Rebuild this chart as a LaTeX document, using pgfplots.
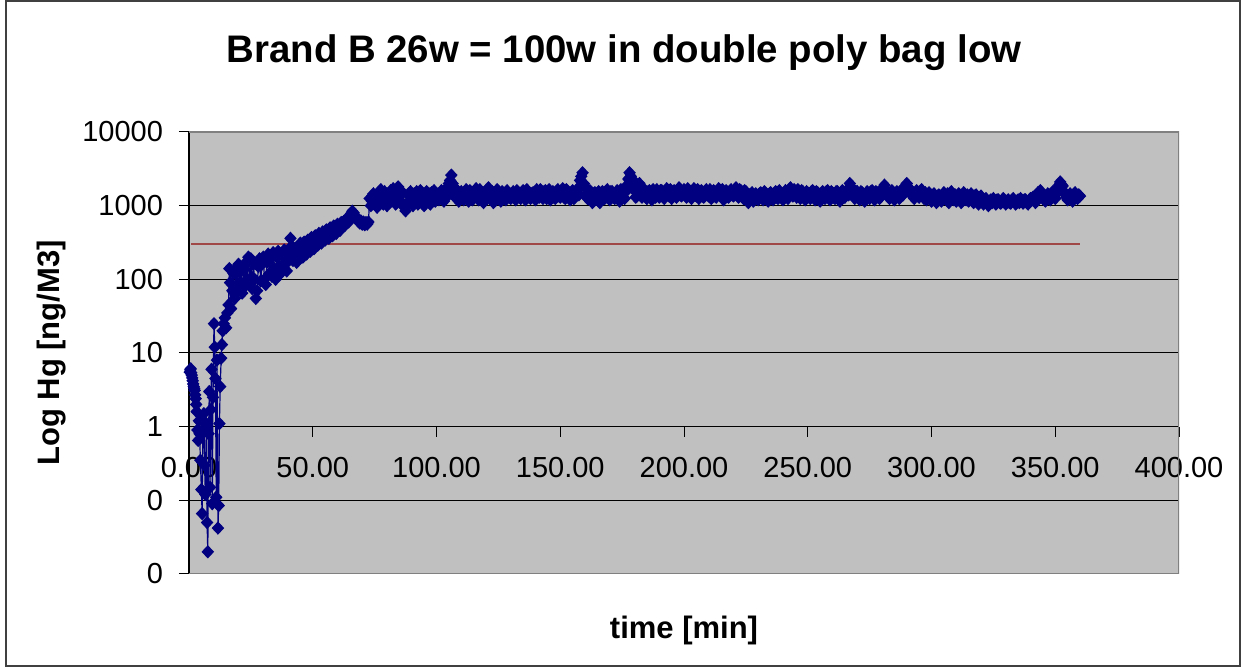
\documentclass[border=0pt]{standalone}
\usepackage{fontspec}
\setmainfont{Liberation Sans}
\usepackage{pgfplots}
\usepackage{pgfplotstable}
\pgfplotsset{compat=1.18}
\definecolor{plotbg}{HTML}{C0C0C0}
\definecolor{navyc}{HTML}{000080}
\definecolor{redl}{HTML}{A04848}
\definecolor{frameg}{HTML}{808080}

\pgfplotstableread[row sep=\\]{
t v \\
0.3 5.5 \\ 0.5 5.9 \\ 0.7 6.1 \\ 0.9 5.4 \\ 1.1 5.0 \\ 1.3 4.6 \\ 1.5 4.2 \\ 1.7 3.8 \\ 1.9 3.5 \\ 2.1 3.3 \\
2.3 3.1 \\ 2.5 2.7 \\ 2.7 2.4 \\ 2.9 2.0 \\ 3.1 1.6 \\ 3.4 0.9 \\ 3.7 0.65 \\ 4.0 1.2 \\ 4.3 0.8 \\ 4.6 0.35 \\
5.0 0.14 \\ 5.3 0.066 \\ 5.6 0.9 \\ 6.0 1.5 \\ 6.3 0.3 \\ 6.6 0.12 \\ 7.0 1.1 \\ 7.3 0.05 \\ 7.6 0.02 \\ 7.9 0.8 \\
8.2 3.0 \\ 8.5 0.15 \\ 8.8 1.7 \\ 9.1 6.0 \\ 9.4 0.09 \\ 9.7 2.5 \\ 10.1 25 \\ 10.4 12 \\ 10.7 4.5 \\ 11.0 0.11 \\
11.3 8.0 \\ 11.7 0.042 \\ 12.0 0.085 \\ 12.3 1.1 \\ 12.6 3.5 \\ 13.0 8.5 \\ 13.3 13 \\ 13.6 20 \\ 14.0 25 \\ 14.5 30 \\
15.0 22 \\ 15.5 35 \\ 16.0 45 \\ 16.3 140 \\ 16.6 90 \\ 17.0 40 \\ 17.5 70 \\ 18.0 120 \\ 18.5 55 \\ 19.0 140 \\
19.5 70 \\ 20.0 160 \\ 20.5 90 \\ 21.0 130 \\ 21.5 65 \\ 22.0 150 \\ 22.5 80 \\ 23.0 170 \\ 23.5 100 \\ 24.0 200 \\
24.5 90 \\ 25.0 190 \\ 25.5 75 \\ 26.0 160 \\ 26.5 100 \\ 27.0 55 \\ 27.5 70 \\ 28.0 150 \\ 28.5 190 \\ 29.0 95 \\
29.5 160 \\ 30.0 200 \\ 30.5 100 \\ 31.0 85 \\ 31.5 170 \\ 32.0 220 \\ 32.5 120 \\ 33.0 190 \\ 33.5 110 \\ 34.0 230 \\
34.5 140 \\ 35.0 100 \\ 35.5 200 \\ 36.0 240 \\ 36.5 150 \\ 37.0 120 \\ 37.5 210 \\ 38.0 140 \\ 38.5 250 \\ 39.0 160 \\
39.5 130 \\ 40.0 220 \\ 40.5 260 \\ 41.0 360 \\ 41.5 280 \\ 42.0 180 \\ 42.5 260 \\ 43.0 200 \\ 43.5 170 \\ 44.0 280 \\
44.5 210 \\ 45.0 310 \\ 45.5 230 \\ 46.0 200 \\ 46.5 320 \\ 47.0 250 \\ 47.5 220 \\ 48.0 340 \\ 48.5 270 \\ 49.0 240 \\
49.5 370 \\ 50.0 290 \\ 50.5 260 \\ 51.0 390 \\ 51.5 320 \\ 52.0 290 \\ 52.5 420 \\ 53.0 340 \\ 53.5 310 \\ 54.0 440 \\
54.5 370 \\ 55.0 340 \\ 55.5 470 \\ 56.0 390 \\ 56.5 360 \\ 57.0 500 \\ 57.5 420 \\ 58.0 390 \\ 58.5 530 \\ 59.0 450 \\
59.5 420 \\ 60.0 560 \\ 60.5 480 \\ 61.0 460 \\ 61.5 590 \\ 62.0 520 \\ 62.5 610 \\ 63.0 540 \\ 63.5 650 \\ 64.0 680 \\
64.5 600 \\ 65.0 720 \\ 65.5 780 \\ 66.0 840 \\ 66.5 800 \\ 67.0 740 \\ 67.5 690 \\ 68.0 640 \\ 68.5 610 \\ 69.0 580 \\
69.5 620 \\ 70.0 560 \\ 70.5 600 \\ 71.0 550 \\ 71.5 590 \\ 72.0 560 \\ 72.5 600 \\ 73.0 1250 \\ 73.5 1000 \\ 74.0 1150 \\
74.5 1450 \\ 75.0 1050 \\ 75.5 1350 \\ 76.0 950 \\ 76.5 1500 \\ 77.0 1150 \\ 77.5 1650 \\ 78.0 1250 \\ 78.5 1050 \\ 79.0 1550 \\
79.5 1200 \\ 80.0 1000 \\ 80.5 1450 \\ 81.0 1100 \\ 81.5 1600 \\ 82.0 1200 \\ 82.5 1700 \\ 83.0 1300 \\ 83.5 1050 \\ 84.0 1600 \\
84.5 1800 \\ 85.0 1350 \\ 85.5 1150 \\ 86.0 1550 \\ 86.5 1050 \\ 87.0 950 \\ 87.5 850 \\ 88.0 1050 \\ 88.5 1400 \\ 89.0 1100 \\
89.5 1550 \\ 90.0 1200 \\ 90.5 1000 \\ 91.0 1450 \\ 91.5 1150 \\ 92.0 1550 \\ 92.5 1050 \\ 93.0 1400 \\ 93.5 1600 \\ 94.0 1100 \\
94.5 1450 \\ 95.0 1000 \\ 95.5 1400 \\ 96.0 1550 \\ 96.5 1150 \\ 97.0 1450 \\ 97.5 1050 \\ 98.0 1500 \\ 98.5 1200 \\ 99.0 1600 \\
99.5 1150 \\ 100 1450 \\ 100.5 1300 \\ 101 1200 \\ 101.5 1450 \\ 102 1600 \\ 102.5 1250 \\ 103 1150 \\ 103.5 1650 \\ 104 1500 \\
104.5 1350 \\ 105 2000 \\ 105.5 2200 \\ 106 2600 \\ 106.5 2000 \\ 107 1750 \\ 107.5 1400 \\ 108 1250 \\ 108.5 1600 \\ 109 1150 \\
109.5 1350 \\ 110 1550 \\ 110.5 1250 \\ 111 1200 \\ 111.5 1500 \\ 112 1650 \\ 112.5 1300 \\ 113 1150 \\ 113.5 1600 \\ 114 1500 \\
114.5 1200 \\ 115 1250 \\ 115.5 1450 \\ 116 1700 \\ 116.5 1300 \\ 117 1200 \\ 117.5 1650 \\ 118 1550 \\ 118.5 1250 \\ 119 1100 \\
119.5 1450 \\ 120 1600 \\ 120.5 1300 \\ 121 1750 \\ 121.5 1450 \\ 122 1250 \\ 122.5 1550 \\ 123 1100 \\ 123.5 1400 \\ 124 1200 \\
124.5 1650 \\ 125 1550 \\ 125.5 1250 \\ 126 1150 \\ 126.5 1550 \\ 127 1450 \\ 127.5 1250 \\ 128 1200 \\ 128.5 1600 \\ 129 1500 \\
129.5 1300 \\ 130 1250 \\ 130.5 1450 \\ 131 1550 \\ 131.5 1300 \\ 132 1200 \\ 132.5 1600 \\ 133 1500 \\ 133.5 1300 \\ 134 1250 \\
134.5 1450 \\ 135 1600 \\ 135.5 1250 \\ 136 1200 \\ 136.5 1650 \\ 137 1550 \\ 137.5 1300 \\ 138 1250 \\ 138.5 1450 \\ 139 1500 \\
139.5 1300 \\ 140 1200 \\ 140.5 1650 \\ 141 1550 \\ 141.5 1300 \\ 142 1650 \\ 142.5 1400 \\ 143 1250 \\ 143.5 1550 \\ 144 1600 \\
144.5 1250 \\ 145 1300 \\ 145.5 1650 \\ 146 1200 \\ 146.5 1450 \\ 147 1550 \\ 147.5 1300 \\ 148 1250 \\ 148.5 1550 \\ 149 1650 \\
149.5 1350 \\ 150 1300 \\ 150.5 1550 \\ 151 1700 \\ 151.5 1300 \\ 152 1250 \\ 152.5 1650 \\ 153 1550 \\ 153.5 1300 \\ 154 1200 \\
154.5 1450 \\ 155 1600 \\ 155.5 1250 \\ 156 1300 \\ 156.5 1550 \\ 157 1700 \\ 157.5 1400 \\ 158 2200 \\ 158.5 2500 \\ 159 2800 \\
159.5 2000 \\ 160 1750 \\ 160.5 1400 \\ 161 1250 \\ 161.5 1550 \\ 162 1600 \\ 162.5 1250 \\ 163 1100 \\ 163.5 1450 \\ 164 1500 \\
164.5 1300 \\ 165 1200 \\ 165.5 1550 \\ 166 1100 \\ 166.5 1350 \\ 167 1550 \\ 167.5 1250 \\ 168 1250 \\ 168.5 1500 \\ 169 1650 \\
169.5 1300 \\ 170 1200 \\ 170.5 1550 \\ 171 1550 \\ 171.5 1300 \\ 172 1250 \\ 172.5 1500 \\ 173 1600 \\ 173.5 1300 \\ 174 1150 \\
174.5 1650 \\ 175 1500 \\ 175.5 1300 \\ 176 1250 \\ 176.5 1550 \\ 177 1900 \\ 177.5 2300 \\ 178 2800 \\ 178.5 2500 \\ 179 2300 \\
179.5 1900 \\ 180 1600 \\ 180.5 1300 \\ 181 1350 \\ 181.5 1650 \\ 182 2000 \\ 182.5 1500 \\ 183 1300 \\ 183.5 1600 \\ 184 1650 \\
184.5 1300 \\ 185 1250 \\ 185.5 1550 \\ 186 1600 \\ 186.5 1350 \\ 187 1200 \\ 187.5 1650 \\ 188 1550 \\ 188.5 1300 \\ 189 1650 \\
189.5 1450 \\ 190 1300 \\ 190.5 1600 \\ 191 1600 \\ 191.5 1350 \\ 192 1250 \\ 192.5 1550 \\ 193 1700 \\ 193.5 1400 \\ 194 1350 \\
194.5 1650 \\ 195 1250 \\ 195.5 1500 \\ 196 1600 \\ 196.5 1350 \\ 197 1300 \\ 197.5 1600 \\ 198 1750 \\ 198.5 1400 \\ 199 1350 \\
199.5 1550 \\ 200 1650 \\ 200.5 1400 \\ 201 1300 \\ 201.5 1700 \\ 202 1600 \\ 202.5 1350 \\ 203 1250 \\ 203.5 1550 \\ 204 1700 \\
204.5 1400 \\ 205 1350 \\ 205.5 1650 \\ 206 1250 \\ 206.5 1450 \\ 207 1600 \\ 207.5 1350 \\ 208 1300 \\ 208.5 1550 \\ 209 1650 \\
209.5 1400 \\ 210 1350 \\ 210.5 1650 \\ 211 1250 \\ 211.5 1450 \\ 212 1600 \\ 212.5 1350 \\ 213 1300 \\ 213.5 1550 \\ 214 1700 \\
214.5 1450 \\ 215 1350 \\ 215.5 1650 \\ 216 1200 \\ 216.5 1450 \\ 217 1600 \\ 217.5 1350 \\ 218 1300 \\ 218.5 1550 \\ 219 1650 \\
219.5 1400 \\ 220 1350 \\ 220.5 1600 \\ 221 1750 \\ 221.5 1450 \\ 222 1300 \\ 222.5 1650 \\ 223 1600 \\ 223.5 1400 \\ 224 1250 \\
224.5 1600 \\ 225 1550 \\ 225.5 1300 \\ 226 1100 \\ 226.5 1400 \\ 227 1250 \\ 227.5 1500 \\ 228 1150 \\ 228.5 1300 \\ 229 1450 \\
229.5 1250 \\ 230 1200 \\ 230.5 1450 \\ 231 1500 \\ 231.5 1300 \\ 232 1200 \\ 232.5 1550 \\ 233 1450 \\ 233.5 1300 \\ 234 1150 \\
234.5 1450 \\ 235 1500 \\ 235.5 1250 \\ 236 1200 \\ 236.5 1450 \\ 237 1550 \\ 237.5 1300 \\ 238 1250 \\ 238.5 1600 \\ 239 1500 \\
239.5 1300 \\ 240 1200 \\ 240.5 1450 \\ 241 1600 \\ 241.5 1350 \\ 242 1250 \\ 242.5 1550 \\ 243 1750 \\ 243.5 1500 \\ 244 1350 \\
244.5 1650 \\ 245 1500 \\ 245.5 1300 \\ 246 1650 \\ 246.5 1450 \\ 247 1250 \\ 247.5 1600 \\ 248 1550 \\ 248.5 1300 \\ 249 1200 \\
249.5 1550 \\ 250 1500 \\ 250.5 1350 \\ 251 1250 \\ 251.5 1550 \\ 252 1600 \\ 252.5 1300 \\ 253 1200 \\ 253.5 1550 \\ 254 1500 \\
254.5 1300 \\ 255 1150 \\ 255.5 1450 \\ 256 1550 \\ 256.5 1300 \\ 257 1250 \\ 257.5 1550 \\ 258 1600 \\ 258.5 1350 \\ 259 1200 \\
259.5 1550 \\ 260 1500 \\ 260.5 1300 \\ 261 1250 \\ 261.5 1550 \\ 262 1550 \\ 262.5 1350 \\ 263 1150 \\ 263.5 1450 \\ 264 1600 \\
264.5 1350 \\ 265 1300 \\ 265.5 1550 \\ 266 1650 \\ 266.5 1400 \\ 267 2000 \\ 267.5 1800 \\ 268 1600 \\ 268.5 1400 \\ 269 1250 \\
269.5 1550 \\ 270 1550 \\ 270.5 1300 \\ 271 1200 \\ 271.5 1550 \\ 272 1500 \\ 272.5 1300 \\ 273 1150 \\ 273.5 1450 \\ 274 1550 \\
274.5 1300 \\ 275 1250 \\ 275.5 1550 \\ 276 1600 \\ 276.5 1300 \\ 277 1200 \\ 277.5 1550 \\ 278 1500 \\ 278.5 1350 \\ 279 1250 \\
279.5 1450 \\ 280 1650 \\ 280.5 1750 \\ 281 1900 \\ 281.5 1650 \\ 282 1550 \\ 282.5 1350 \\ 283 1250 \\ 283.5 1500 \\ 284 1600 \\
284.5 1350 \\ 285 1200 \\ 285.5 1450 \\ 286 1550 \\ 286.5 1350 \\ 287 1250 \\ 287.5 1500 \\ 288 1650 \\ 288.5 1400 \\ 289 1750 \\
289.5 1850 \\ 290 2000 \\ 290.5 1800 \\ 291 1700 \\ 291.5 1450 \\ 292 1500 \\ 292.5 1350 \\ 293 1250 \\ 293.5 1500 \\ 294 1600 \\
294.5 1350 \\ 295 1300 \\ 295.5 1550 \\ 296 1650 \\ 296.5 1400 \\ 297 1250 \\ 297.5 1500 \\ 298 1200 \\ 298.5 1300 \\ 299 1500 \\
299.5 1300 \\ 300 1150 \\ 300.5 1300 \\ 301 1450 \\ 301.5 1250 \\ 302 1100 \\ 302.5 1350 \\ 303 1400 \\ 303.5 1250 \\ 304 1150 \\
304.5 1350 \\ 305 1500 \\ 305.5 1250 \\ 306 1200 \\ 306.5 1450 \\ 307 1100 \\ 307.5 1300 \\ 308 1550 \\ 308.5 1300 \\ 309 1200 \\
309.5 1400 \\ 310 1150 \\ 310.5 1300 \\ 311 1450 \\ 311.5 1250 \\ 312 1100 \\ 312.5 1350 \\ 313 1500 \\ 313.5 1250 \\ 314 1200 \\
314.5 1400 \\ 315 1150 \\ 315.5 1300 \\ 316 1450 \\ 316.5 1250 \\ 317 1100 \\ 317.5 1350 \\ 318 1400 \\ 318.5 1200 \\ 319 1050 \\
319.5 1250 \\ 320 1350 \\ 320.5 1150 \\ 321 1050 \\ 321.5 1150 \\ 322 1250 \\ 322.5 1100 \\ 323 1000 \\ 323.5 1150 \\ 324 1200 \\
324.5 1100 \\ 325 1250 \\ 325.5 1150 \\ 326 1050 \\ 326.5 1200 \\ 327 1200 \\ 327.5 1100 \\ 328 1080 \\ 328.5 1180 \\ 329 1250 \\
329.5 1120 \\ 330 1050 \\ 330.5 1150 \\ 331 1200 \\ 331.5 1100 \\ 332 1080 \\ 332.5 1180 \\ 333 1250 \\ 333.5 1120 \\ 334 1050 \\
334.5 1150 \\ 335 1200 \\ 335.5 1100 \\ 336 1250 \\ 336.5 1150 \\ 337 1080 \\ 337.5 1200 \\ 338 1200 \\ 338.5 1100 \\ 339 1050 \\
339.5 1150 \\ 340 1250 \\ 340.5 1200 \\ 341 1300 \\ 341.5 1200 \\ 342 1100 \\ 342.5 1350 \\ 343 1500 \\ 343.5 1350 \\ 344 1600 \\
344.5 1400 \\ 345 1250 \\ 345.5 1350 \\ 346 1150 \\ 346.5 1300 \\ 347 1450 \\ 347.5 1250 \\ 348 1200 \\ 348.5 1350 \\ 349 1550 \\
349.5 1350 \\ 350 1250 \\ 350.5 1450 \\ 351 1700 \\ 351.5 1900 \\ 352 2100 \\ 352.5 1950 \\ 353 1850 \\ 353.5 1550 \\ 354 1450 \\
354.5 1300 \\ 355 1200 \\ 355.5 1350 \\ 356 1450 \\ 356.5 1250 \\ 357 1150 \\ 357.5 1350 \\ 358 1500 \\ 358.5 1300 \\ 359 1250 \\
359.5 1400 \\ 360 1350 \\
}\hgdata

\begin{document}
\begin{tikzpicture}
\useasboundingbox (0,0) rectangle (620.5pt,333.5pt);
\draw[line width=1pt, black!75] (3pt,0.5pt) rectangle (620pt,333pt);
\begin{axis}[
  at={(94.5pt,46.5pt)}, anchor=south west,
  scale only axis, width=495pt, height=221pt,
  xmin=0, xmax=400, ymode=log, ymin=0.01, ymax=10000,
  axis x line=middle, axis y line=left, axis line style={-, black, line width=0.6pt},
  hide obscured x ticks=false,
  axis background/.style={fill=plotbg},
  xtick={0,50,...,400},
  xticklabels={0.00,50.00,100.00,150.00,200.00,250.00,300.00,350.00,400.00},
  ytick={0.01,0.1,1,10,100,1000,10000},
  yticklabels={0,0,1,10,100,1000,10000},
  yminorticks=false,
  tick align=outside, major tick length=5pt,
  tick style={black, line width=0.5pt},
  ymajorgrids, grid style={black, line width=0.5pt},
  tick label style={font=\fontsize{14.5pt}{17pt}\selectfont},
  xticklabel style={anchor=north, yshift=-7pt},
  yticklabel style={anchor=east, xshift=-4.5pt},
  title={Brand B 26w = 100w in double poly bag low},
  xlabel={time [min]},
  ylabel={Log Hg [ng/M3]},
  every axis title/.style={at={(rel axis cs:0.4394,1.158)}, anchor=base, font=\fontsize{19.2pt}{23pt}\selectfont\bfseries},
  every axis x label/.style={at={(rel axis cs:0.5,-0.147)}, anchor=base, font=\fontsize{15.5pt}{18pt}\selectfont\bfseries},
  every axis y label/.style={at={(rel axis cs:-0.139,0.5)}, rotate=90, anchor=center, font=\fontsize{15.5pt}{18pt}\selectfont\bfseries},
]
\addplot[redl, line width=0.9pt, no marks] coordinates {(1,300) (50,300) (100,300) (150,300) (200,300) (250,300) (300,300) (360,300)};
\addplot[navyc, line width=0.6pt, mark=diamond*, mark size=2.9pt, mark options={navyc, xscale=1.25}] table[x=t, y=v] {\hgdata};
\draw[frameg, line width=0.8pt] (rel axis cs:0,1) -- (rel axis cs:1,1) -- (rel axis cs:1,0) -- (rel axis cs:0,0);
\end{axis}
\end{tikzpicture}
\end{document}
